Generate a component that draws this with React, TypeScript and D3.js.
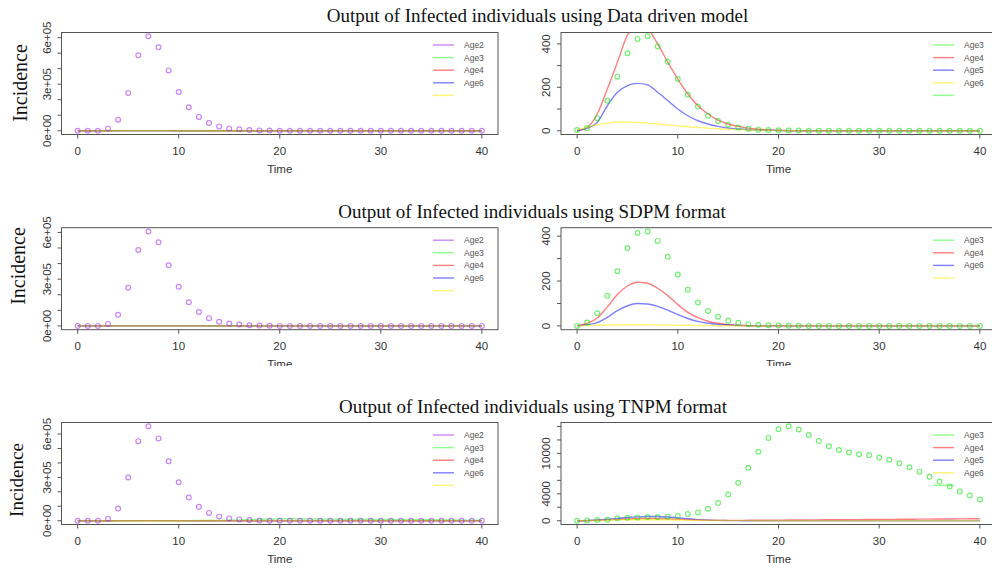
import React from "react";
import * as d3 from "d3";

// ---------- data ----------
const TIME = [0,1,2,3,4,5,6,7,8,9,10,11,12,13,14,15,16,17,18,19,20,21,22,23,24,25,26,27,28,29,30,31,32,33,34,35,36,37,38,39,40];

// Data driven model
const DD_AGE2_OBS = [0,0,0,15000,71000,244000,486000,609000,538000,389000,250000,151000,89000,50000,28000,15000,9000,4000,2000,1000,0,0,0,0,0,0,0,0,0,0,0,0,0,0,0,0,0,0,0,0,0];
const DD_AGE3_OBS = [3,12,58,138,249,357,423,435,388,318,238,166,111,69,45,28,15,9,5,3,2,1,1,0,0,0,0,0,0,0,0,0,0,0,0,0,0,0,0,0,0];
const DD_AGE4 = [0,15,77,192,315,440,482,468,400,316,238,169,115,77,49,31,20,12,7,4,2,1,0,0,0,0,0,0,0,0,0,0,0,0,0,0,0,0,0,0,0];
const DD_AGE5 = [0,12,38,115,177,208,218,211,177,139,100,69,46,31,20,12,8,5,3,2,1,0,0,0,0,0,0,0,0,0,0,0,0,0,0,0,0,0,0,0,0];
const DD_AGE6 = [5,15,28,35,40,40,38,35,31,26,22,18,15,12,9,7,5,4,3,2,1,0,0,0,0,0,0,0,0,0,0,0,0,0,0,0,0,0,0,0,0];

// SDPM format
const SD_AGE2_OBS = [0,0,0,13000,71000,245000,487000,606000,537000,389000,251000,152000,89000,50000,26000,15000,9000,4000,2000,1000,0,0,0,0,0,0,0,0,0,0,0,0,0,0,0,0,0,0,0,0,0];
const SD_AGE3_OBS = [0,15,56,134,244,347,414,421,379,308,229,161,104,66,41,23,14,8,5,3,2,1,1,0,0,0,0,0,0,0,0,0,0,0,0,0,0,0,0,0,0];
const SD_AGE4 = [0,12,35,85,140,178,195,190,168,135,95,60,37,21,12,6,3,1,0,0,0,0,0,0,0,0,0,0,0,0,0,0,0,0,0,0,0,0,0,0,0];
const SD_AGE6 = [0,5,15,38,68,90,100,98,87,70,50,33,20,12,7,4,2,1,0,0,0,0,0,0,0,0,0,0,0,0,0,0,0,0,0,0,0,0,0,0,0];
const SD_EXTRA = [0,2,3,4,5,5,5,5,4,4,3,3,2,2,1,1,1,0,0,0,0,0,0,0,0,0,0,0,0,0,0,0,0,0,0,0,0,0,0,0,0];

// TNPM format
const TN_AGE2_OBS = [0,0,0,14000,84000,299000,551000,654000,570000,411000,266000,161000,96000,54000,30000,16000,9000,5000,2000,0,0,0,0,0,0,0,0,0,0,0,0,0,0,0,0,0,0,0,0,0,0];
const TN_AGE3_OBS = [0,50,100,150,350,450,490,540,540,590,690,990,1240,1780,2620,3900,5630,7880,10250,12300,13580,14030,13560,12740,11830,11060,10500,10120,9880,9710,9380,9050,8520,7930,7290,6520,5810,5070,4330,3730,3160];
const TN_AGE4 = [0,20,60,120,200,270,320,340,320,280,220,160,110,75,55,50,55,60,70,80,90,100,110,120,130,140,150,160,170,180,190,200,210,220,230,240,250,260,270,285,300];
const TN_AGE5 = [0,40,110,220,350,480,570,620,620,560,430,290,170,90,45,20,10,5,2,1,0,0,0,0,0,0,0,0,0,0,0,0,0,0,0,0,0,0,0,0,0];
const TN_AGE6 = [0,20,50,90,120,140,150,150,140,120,100,80,60,45,30,20,12,8,5,3,2,1,0,0,0,0,0,0,0,0,0,0,0,0,0,0,0,0,0,0,0];

const X_TICKS = [0, 10, 20, 30, 40];
const LEFT_Y_TICKS = [0, 100000, 200000, 300000, 400000, 500000, 600000];
const LEFT_Y_LABELS = [[0, "0e+00"], [300000, "3e+05"], [600000, "6e+05"]] as [number, string][];
const RIGHT_Y_TICKS = [0, 100, 200, 300, 400];
const RIGHT_Y_LABELS = [[0, "0"], [200, "200"], [400, "400"]] as [number, string][];
const TN_Y_TICKS = [0, 2000, 4000, 6000, 8000, 10000, 12000, 14000];
const TN_Y_LABELS = [[0, "0"], [4000, "4000"], [10000, "10000"]] as [number, string][];

const TITLES = [
  "Output of Infected individuals using Data driven model",
  "Output of Infected individuals using SDPM format",
  "Output of Infected individuals using TNPM format",
];

// ---------- styles ----------
const PURPLE_PT = "rgba(160,32,240,0.55)";
const GREEN_PT = "rgba(0,225,0,0.55)";
const GREEN = "rgba(0,255,0,0.45)";
const RED = "rgba(255,0,0,0.5)";
const BLUE = "rgba(0,0,255,0.5)";
const YELLOW = "rgba(255,235,0,0.55)";
const SANS = "'Liberation Sans', Arial, Helvetica, sans-serif";
const SERIF = "'Liberation Serif', 'Times New Roman', serif";
const AXIS = "#555";

type Series = { values: number[]; color: string };
type LegendItem = { label: string; color: string };

interface PanelProps {
  id: string;
  x0: number; x1: number; y0: number; y1: number;
  obs: number[]; obsColor: string;
  lines: Series[];
  yTicks: number[]; yLabels: [number, string][];
  legend: LegendItem[]; legendX: number;
}

function Panel(p: PanelProps) {
  const M = d3.max(p.obs) as number;
  const x = d3.scaleLinear().domain([-1.6, 41.6]).range([p.x0, p.x1]);
  const y = d3.scaleLinear().domain([-0.04 * M, 1.04 * M]).range([p.y1, p.y0]);
  const line = d3.line<number>()
    .x((_, i) => x(TIME[i]))
    .y((v) => y(v))
    .curve(d3.curveMonotoneX);
  const cx = (p.x0 + p.x1) / 2;
  return (
    <g>
      <defs>
        <clipPath id={p.id}>
          <rect x={p.x0} y={p.y0} width={p.x1 - p.x0} height={p.y1 - p.y0} />
        </clipPath>
      </defs>
      <g clipPath={`url(#${p.id})`}>
        {p.lines.map((s, k) => (
          <path key={k} d={line(s.values) || ""} fill="none" stroke={s.color} strokeWidth={1.4} />
        ))}
        {p.obs.map((v, i) => (
          <circle key={i} cx={x(TIME[i])} cy={y(v)} r={2.4} fill="none" stroke={p.obsColor} strokeWidth={1.2} />
        ))}
      </g>
      <rect x={p.x0} y={p.y0} width={p.x1 - p.x0} height={p.y1 - p.y0} fill="none" stroke={AXIS} strokeWidth={1} />
      {X_TICKS.map((t) => (
        <g key={t}>
          <line x1={x(t)} x2={x(t)} y1={p.y1} y2={p.y1 + 4} stroke={AXIS} strokeWidth={1} />
          <text x={x(t)} y={p.y1 + 20.5} textAnchor="middle" fontFamily={SANS} fontSize={11.5} fill="#333">{t}</text>
        </g>
      ))}
      <text x={cx} y={p.y1 + 38} textAnchor="middle" fontFamily={SANS} fontSize={11.5} fill="#333">Time</text>
      {p.yTicks.map((v) => (
        <line key={v} x1={p.x0 - 4} x2={p.x0} y1={y(v)} y2={y(v)} stroke={AXIS} strokeWidth={1} />
      ))}
      {p.yLabels.map(([v, lab]) => (
        <text key={lab} transform={`translate(${p.x0 - 15},${y(v)}) rotate(-90)`} textAnchor="middle"
          dominantBaseline="central" fontFamily={SANS} fontSize={11.5} fill="#333">{lab}</text>
      ))}
      {p.legend.map((it, i) => {
        const ly = p.y0 + 12.5 + 12.6 * i;
        return (
          <g key={i}>
            <line x1={p.legendX} x2={p.legendX + 21} y1={ly} y2={ly} stroke={it.color} strokeWidth={1.4} />
            <text x={p.legendX + 31} y={ly} dominantBaseline="central" fontFamily={SANS} fontSize={8.5} fill="#555">{it.label}</text>
          </g>
        );
      })}
    </g>
  );
}

const LEFT_X = [61.5, 498];
const RIGHT_X = [561, 996];
const ROW_TOP = [32.5, 227.7, 422.5];
const ROW_H = 102;

export default function App() {
  const leftLegend: LegendItem[] = [
    { label: "Age2", color: PURPLE_PT },
    { label: "Age3", color: GREEN },
    { label: "Age4", color: RED },
    { label: "Age6", color: BLUE },
    { label: "", color: YELLOW },
  ];
  const rightLegend5: LegendItem[] = [
    { label: "Age3", color: GREEN },
    { label: "Age4", color: RED },
    { label: "Age5", color: BLUE },
    { label: "Age6", color: YELLOW },
    { label: "", color: GREEN },
  ];
  const rightLegend4: LegendItem[] = [
    { label: "Age3", color: GREEN },
    { label: "Age4", color: RED },
    { label: "Age6", color: BLUE },
    { label: "", color: YELLOW },
  ];
  const rows = [
    {
      leftObs: DD_AGE2_OBS, rightObs: DD_AGE3_OBS,
      lines: [DD_AGE4, DD_AGE5, DD_AGE6], rTicks: RIGHT_Y_TICKS, rLabels: RIGHT_Y_LABELS, rLegend: rightLegend5,
    },
    {
      leftObs: SD_AGE2_OBS, rightObs: SD_AGE3_OBS,
      lines: [SD_AGE4, SD_AGE6, SD_EXTRA], rTicks: RIGHT_Y_TICKS, rLabels: RIGHT_Y_LABELS, rLegend: rightLegend4,
    },
    {
      leftObs: TN_AGE2_OBS, rightObs: TN_AGE3_OBS,
      lines: [TN_AGE4, TN_AGE5, TN_AGE6], rTicks: TN_Y_TICKS, rLabels: TN_Y_LABELS, rLegend: rightLegend5,
    },
  ];
  const titleX = [537.5, 532, 533];
  const titleY = [22, 218, 413];
  const incid = [[20, 83, 20], [18.3, 266, 20], [16.7, 480, 19]];
  return (
    <svg width={992} height={569} style={{ position: "absolute", left: 0, top: 0, background: "#fff" }}>
      <rect x={0} y={0} width={992} height={569} fill="#fff" />
      {rows.map((r, k) => {
        const y0 = ROW_TOP[k];
        const y1 = y0 + ROW_H;
        return (
          <g key={k}>
            <text x={titleX[k]} y={titleY[k]} textAnchor="middle" fontFamily={SERIF} fontSize={19} fill="#111">{TITLES[k]}</text>
            <text transform={`translate(${incid[k][0]},${incid[k][1]}) rotate(-90)`} textAnchor="middle"
              dominantBaseline="central" fontFamily={SERIF} fontSize={incid[k][2]} fill="#111">Incidence</text>
            <Panel id={`cl${k}`} x0={LEFT_X[0]} x1={LEFT_X[1]} y0={y0} y1={y1}
              obs={r.leftObs} obsColor={PURPLE_PT}
              lines={[
                { values: r.rightObs, color: GREEN },
                { values: r.lines[0], color: RED },
                { values: r.lines[1], color: BLUE },
                { values: r.lines[2], color: YELLOW },
              ]}
              yTicks={LEFT_Y_TICKS} yLabels={LEFT_Y_LABELS} legend={leftLegend} legendX={433} />
            <Panel id={`cr${k}`} x0={RIGHT_X[0]} x1={RIGHT_X[1]} y0={y0} y1={y1}
              obs={r.rightObs} obsColor={GREEN_PT}
              lines={[
                { values: r.lines[0], color: RED },
                { values: r.lines[1], color: BLUE },
                { values: r.lines[2], color: YELLOW },
              ]}
              yTicks={r.rTicks} yLabels={r.rLabels} legend={r.rLegend} legendX={933} />
          </g>
        );
      })}
      <rect x={0} y={366} width={992} height={30} fill="#fff" />
    </svg>
  );
}
